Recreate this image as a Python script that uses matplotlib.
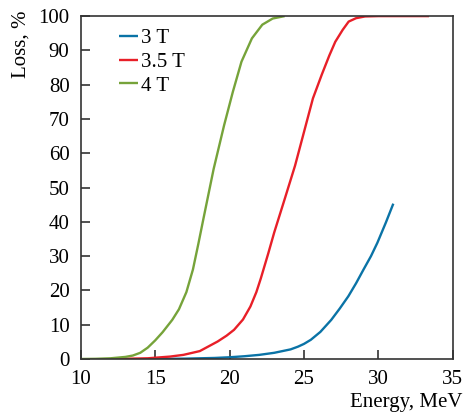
import matplotlib
matplotlib.use('Agg')
import numpy as np
from matplotlib import pyplot as plt

plt.rcParams['font.family'] = ['Liberation Serif', 'DejaVu Serif']

# 3 T
e_3t = [15, 17, 19, 20, 21, 22, 23, 24.1, 24.6, 25.0, 25.46, 26.1, 26.83, 27.4, 27.98, 28.5, 29.0, 29.5, 29.93, 30.5, 31.0]
loss_3t = [0, 0.1, 0.3, 0.5, 0.8, 1.2, 1.8, 2.8, 3.6, 4.4, 5.6, 7.9, 11.4, 14.7, 18.3, 22.1, 26.1, 30.0, 33.9, 39.8, 45.3]

# 3.5 T
e_35t = [12.3, 14.5, 16, 16.9, 18, 19.2, 19.8, 20.3, 20.9, 21.4, 21.8, 22.1, 22.6, 23.0, 23.7, 24.4, 25.0, 25.6, 26.2, 26.7, 27.1, 27.6, 28.0, 28.5, 29.1, 30, 31, 32, 33.4]
loss_35t = [0, 0.2, 0.7, 1.2, 2.3, 5.1, 6.8, 8.5, 11.5, 15.3, 19.5, 23.5, 30.8, 36.9, 46.6, 56.4, 66.2, 76.0, 83.0, 88.5, 92.5, 96.0, 98.4, 99.4, 99.9, 100, 100, 100, 100]

# 4 T
e_4t = [10, 11, 12, 13, 13.5, 14, 14.5, 15, 15.5, 16.15, 16.6, 17.1, 17.54, 17.9, 18.24, 18.93, 19.63, 20.22, 20.8, 21.5, 22.2, 22.9, 23.7]
loss_4t = [0, 0.05, 0.2, 0.6, 1.0, 1.8, 3.3, 5.4, 7.8, 11.4, 14.5, 19.5, 26.1, 33.5, 40.8, 55.4, 68.1, 77.9, 86.7, 93.5, 97.5, 99.3, 100]

fig = plt.figure(figsize=(4.64, 4.13), dpi=100)
ax = fig.add_axes([0.1739, 0.1308, 0.8021, 0.8302])

kw = dict(lw=1.7, solid_joinstyle='round', solid_capstyle='butt')
ax.plot(e_3t, loss_3t, color='#0a73a6', label='3 T', **kw)
ax.plot(e_35t, loss_35t, color='#e81f28', label='3.5 T', **kw)
ax.plot(e_4t, loss_4t, color='#76a33a', label='4 T', **kw)

ax.set_xlim(10, 35)
ax.set_ylim(0, 100)
ax.set_xticks(np.arange(10, 36, 5))
ax.set_yticks(np.arange(0, 101, 10))
ax.tick_params(direction='in', length=6.5, width=1.2, color='#333333', labelsize=15, pad=8)
for s in ax.spines.values():
    s.set_color('#333333')
    s.set_linewidth(1.2)

ax.set_xlabel('Energy, MeV', fontsize=15, ha='right')
ax.xaxis.set_label_coords(1.025, -0.098)
ax.set_ylabel('Loss, %', fontsize=15, ha='right', va='bottom')
ax.yaxis.set_label_coords(-0.135, 1.017)

ax.legend(loc='upper left', bbox_to_anchor=(0.07, 1.0), frameon=False, fontsize=15,
          handlelength=0.9, handletextpad=0.15, labelspacing=0.2, borderaxespad=0.2)

fig.savefig('out.png', dpi=100)
